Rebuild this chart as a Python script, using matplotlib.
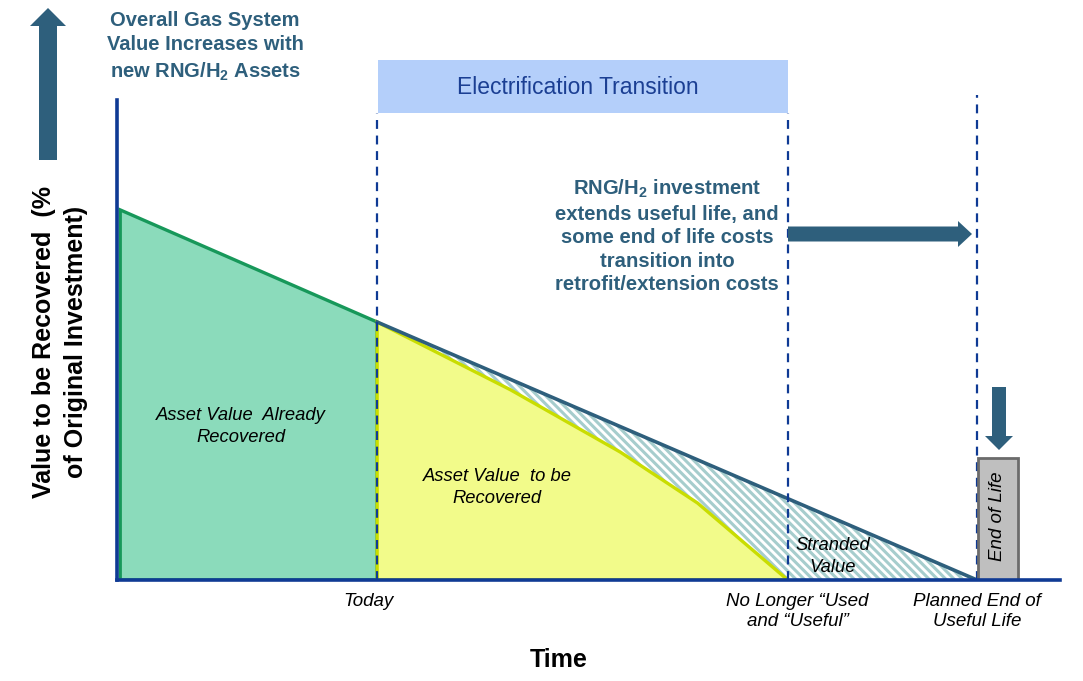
import numpy as np
import matplotlib
matplotlib.use('Agg')
import matplotlib.pyplot as plt
from matplotlib.patches import Polygon, Rectangle, FancyArrow

plt.rcParams['font.family'] = ['Liberation Sans', 'DejaVu Sans']
plt.rcParams['mathtext.fontset'] = 'custom'
plt.rcParams['mathtext.rm'] = 'Liberation Sans:bold'
plt.rcParams['mathtext.it'] = 'Liberation Sans:bold'
plt.rcParams['hatch.linewidth'] = 2.2

# time (arbitrary units) and value to recover (% of original investment)
t_start = 0.15
t_today = 12.1
t_unused = 31.2
t_end = 40.0
v_start = 100.0
v_today = 69.7
recover_t = [12.1, 18.3, 23.4, 27.0, 31.2]
recover_v = [69.7, 51.4, 34.6, 20.8, 0.0]
eol_width = 1.85
eol_height = 33.0
tick_t = [t_today, t_unused, t_end]
tick_labels = ['Today', 'No Longer \u201cUsed\nand \u201cUseful\u201d', 'Planned End of\nUseful Life']
tick_dx = [-6, 7, 0]  # label nudges, points

DARKBLUE = '#0f3a94'
STEEL = '#2e5f7c'

fig = plt.figure(figsize=(10.83, 6.81), dpi=100)
W, H = 1083, 681
ax = fig.add_axes([117 / W, (H - 580) / H, (1060 - 117) / W, (580 - 100) / H])
ax.set_xlim(0, 43.86)
ax.set_ylim(0, 129.7)

# already recovered
green = Polygon([(t_start, 0), (t_start, v_start), (t_today, v_today), (t_today, 0)],
                closed=True, facecolor='#8bdbbb', edgecolor='#17985a', lw=2.4, zorder=2)
ax.add_patch(green)

# to be recovered
yel_pts = [(t_today, 0)] + list(zip(recover_t, recover_v))
yellow = Polygon(yel_pts, closed=True, facecolor='#f2fb8a', edgecolor='#c9dd00', lw=2.4, zorder=3)
ax.add_patch(yellow)

# stranded value (hatched)
strand_pts = [(t_today, v_today), (t_end, 0)] + list(zip(recover_t[::-1], recover_v[::-1]))
strand = Polygon(strand_pts, closed=True, fill=False, hatch='\\\\\\\\', edgecolor='#a6cdcd', lw=0, zorder=2)
ax.add_patch(strand)
ax.plot([t_today, t_end], [v_today, 0], color=STEEL, lw=2.6, zorder=4)

# dashed markers
ax.vlines([t_today, t_unused], 0, 129.7 - 13 / 3.7, colors=DARKBLUE, linestyles=(0, (4, 3)), lw=1.6, zorder=5)
ax.vlines([t_end], 0, 131.0, colors=DARKBLUE, linestyles=(0, (4, 3)), lw=1.6, zorder=5, clip_on=False)

# end of life box
ax.add_patch(Rectangle((t_end + 0.05, 0), eol_width, eol_height, facecolor='#bfbfbf',
                       edgecolor='#6b6b6b', lw=2, zorder=6))
ax.text(t_end + 0.05 + eol_width / 2, eol_height / 2 + 0.8, 'End of Life', rotation=90, style='italic',
        fontsize=13.5, ha='center', va='center', zorder=7)

for s in ['top', 'right']:
    ax.spines[s].set_visible(False)
for s in ['left', 'bottom']:
    ax.spines[s].set_color(DARKBLUE)
    ax.spines[s].set_linewidth(2.6)
    ax.spines[s].set_zorder(8)
ax.set_yticks([])
ax.set_xticks([])
for t, lab, dx in zip(tick_t, tick_labels, tick_dx):
    ax.annotate(lab, (t, 0), xycoords=('data', 'axes fraction'), xytext=(dx, -9),
                textcoords='offset points', ha='center', va='top', style='italic',
                fontsize=13.5, linespacing=1.3, annotation_clip=False)

fig.text(60 / W, 1 - 342 / H, 'Value to be Recovered  (%\nof Original Investment)', fontsize=18,
         fontweight='bold', linespacing=1.4, rotation=90, ha='center', va='center')
fig.text(559 / W, 1 - 660 / H, 'Time', fontsize=18, fontweight='bold', ha='center', va='center')

ax.text(5.75, 41.5, 'Asset Value  Already\nRecovered', style='italic', fontsize=13.2, ha='center',
        va='center', linespacing=1.35, zorder=9)
ax.text(17.67, 25, 'Asset Value  to be\nRecovered', style='italic', fontsize=13.2, ha='center',
        va='center', linespacing=1.35, zorder=9)
ax.text(33.3, 6.35, 'Stranded\nValue', style='italic', fontsize=13.2, ha='center',
        va='center', linespacing=1.35, zorder=9)

# overlay for annotations in pixel coordinates
ov = fig.add_axes([0, 0, 1, 1], facecolor='none')
ov.set_xlim(0, W)
ov.set_ylim(H, 0)
ov.axis('off')

ov.add_patch(Rectangle((378, 60), 410, 53, facecolor='#b4cffa', edgecolor='none'))
ov.text(578, 87, 'Electrification Transition', fontsize=16.5, color='#1b3f93', ha='center', va='center')

ov.text(205, 47, 'Overall Gas System\nValue Increases with\nnew RNG/H$_2$ Assets', fontsize=14.5,
        fontweight='bold', color=STEEL, ha='center', va='center', linespacing=1.35)
ov.text(667, 236, 'RNG/H$_2$ investment\nextends useful life, and\nsome end of life costs\n'
        'transition into\nretrofit/extension costs', fontsize=14.6, fontweight='bold', color=STEEL,
        ha='center', va='center', linespacing=1.3)

ov.add_patch(FancyArrow(48, 160, 0, -152, width=18, head_width=36, head_length=18,
                        length_includes_head=True, color=STEEL, lw=0))
ov.add_patch(FancyArrow(788, 234, 184, 0, width=15, head_width=26, head_length=14,
                        length_includes_head=True, color=STEEL, lw=0))
ov.add_patch(FancyArrow(999, 387, 0, 63, width=14, head_width=28, head_length=14,
                        length_includes_head=True, color=STEEL, lw=0))

fig.savefig('out.png', dpi=100)
